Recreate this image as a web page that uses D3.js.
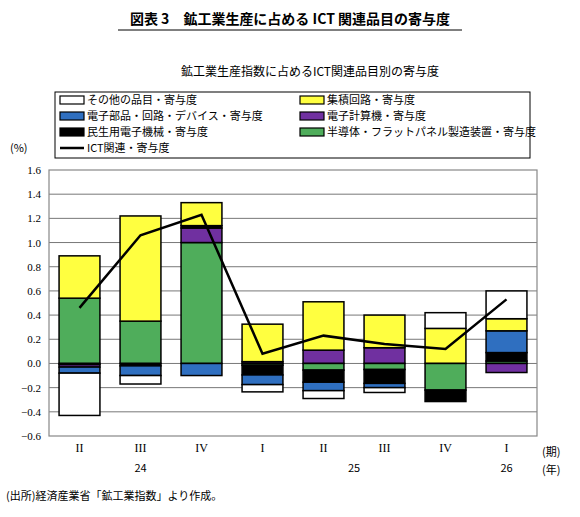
<!DOCTYPE html>
<html lang="ja">
<head>
<meta charset="UTF-8">
<script src="https://d3js.org/d3.v7.min.js"></script>
<style>
  body { margin: 0; background: #fff; }
  text { font-family: "Noto Sans CJK JP", sans-serif; fill: #000; }
</style>
</head>
<body>
<script>
// quarters and year labels
const quarters = ["II", "III", "IV", "I", "II", "III", "IV", "I"];
const years = [{ label: "24", at: 1 }, { label: "25", at: 4.5 }, { label: "26", at: 7 }];

// contributions (percentage points)
const other      = [-0.35, -0.07, 0.00, -0.06, -0.065, -0.04, 0.13, 0.23];
const icChips    = [0.35, 0.87, 0.19, 0.31, 0.40, 0.27, 0.29, 0.10];
const components = [-0.05, -0.08, -0.10, -0.08, -0.07, -0.035, 0.00, 0.18];
const computers  = [-0.02, 0.00, 0.12, 0.015, 0.11, 0.13, 0.00, -0.075];
const consumer   = [-0.01, -0.02, 0.02, -0.08, -0.10, -0.115, -0.095, 0.07];
const semiEquip  = [0.54, 0.35, 1.00, -0.015, -0.055, -0.05, -0.22, 0.02];
const ictTotal   = [0.46, 1.06, 1.23, 0.08, 0.23, 0.16, 0.12, 0.53];
const yTicks = [-0.6, -0.4, -0.2, 0.0, 0.2, 0.4, 0.6, 0.8, 1.0, 1.2, 1.4, 1.6];

const series = [
  { name: "その他の品目・寄与度", values: other, color: "#ffffff" },
  { name: "集積回路・寄与度", values: icChips, color: "#ffff40" },
  { name: "電子部品・回路・デバイス・寄与度", values: components, color: "#2f6fc0" },
  { name: "電子計算機・寄与度", values: computers, color: "#7030a0" },
  { name: "民生用電子機械・寄与度", values: consumer, color: "#000000" },
  { name: "半導体・フラットパネル製造装置・寄与度", values: semiEquip, color: "#4fad5b" }
];
const byName = n => series.find(s => s.name.startsWith(n));
const posOrder = ["半導体", "電子計算機", "民生用", "電子部品", "集積回路", "その他"].map(byName);
const negOrder = ["半導体", "民生用", "電子計算機", "電子部品", "その他"].map(byName);

const W = 580, H = 517;
const m = { left: 49, right: 43, top: 170, bottom: 81 };
const svg = d3.select("body").append("svg").attr("width", W).attr("height", H);

// title
svg.append("text").attr("x", W / 2).attr("y", 24).attr("text-anchor", "middle")
  .style("font-size", "14px").style("font-weight", "bold")
  .text("図表 3　鉱工業生産に占める ICT 関連品目の寄与度");
svg.append("line").attr("x1", 118).attr("x2", 462).attr("y1", 30).attr("y2", 30)
  .attr("stroke", "#000").attr("stroke-width", 1);
svg.append("text").attr("x", 310).attr("y", 76).attr("text-anchor", "middle")
  .style("font-size", "12px").text("鉱工業生産指数に占めるICT関連品目別の寄与度");

const x = d3.scaleBand().domain(d3.range(quarters.length))
  .range([m.left, W - m.right]).paddingInner(0.33).paddingOuter(0.165);
const y = d3.scaleLinear().domain([-0.6, 1.6]).range([H - m.bottom, m.top]);

// grid
svg.append("g").selectAll("line").data(yTicks.slice(1, -1)).join("line")
  .attr("x1", m.left).attr("x2", W - m.right)
  .attr("y1", d => y(d)).attr("y2", d => y(d))
  .attr("stroke", "#555").attr("stroke-width", 0.8);
svg.append("rect").attr("x", m.left).attr("y", m.top)
  .attr("width", W - m.left - m.right).attr("height", y(-0.6) - m.top)
  .attr("fill", "none").attr("stroke", "#888").attr("stroke-width", 1.2);

// y axis labels
const yAxis = d3.axisLeft(y).tickValues(yTicks).tickFormat(d3.format(".1f")).tickSize(0).tickPadding(8);
const ya = svg.append("g").attr("transform", `translate(${m.left},0)`).call(yAxis);
ya.select(".domain").remove();
ya.selectAll("text").style("font-size", "11px").style("font-family", "Liberation Serif, serif");
svg.append("text").attr("x", 10).attr("y", 152).style("font-size", "11px").text("(%)");

// stacked bars
quarters.forEach((q, i) => {
  let pos = 0, neg = 0;
  posOrder.forEach(s => {
    const v = s.values[i];
    if (v > 0) {
      svg.append("rect").attr("x", x(i)).attr("width", x.bandwidth())
        .attr("y", y(pos + v)).attr("height", y(pos) - y(pos + v))
        .attr("fill", s.color).attr("stroke", "#000").attr("stroke-width", 1.5);
      pos += v;
    }
  });
  negOrder.forEach(s => {
    const v = s.values[i];
    if (v < 0) {
      svg.append("rect").attr("x", x(i)).attr("width", x.bandwidth())
        .attr("y", y(neg)).attr("height", y(neg + v) - y(neg))
        .attr("fill", s.color).attr("stroke", "#000").attr("stroke-width", 1.5);
      neg += v;
    }
  });
});

// ICT line
svg.append("path").datum(ictTotal)
  .attr("d", d3.line().x((d, i) => x(i) + x.bandwidth() / 2).y(d => y(d)))
  .attr("fill", "none").attr("stroke", "#000").attr("stroke-width", 2.5);

// x labels
svg.append("g").selectAll("text").data(quarters).join("text")
  .attr("x", (d, i) => x(i) + x.bandwidth() / 2).attr("y", 452)
  .attr("text-anchor", "middle").style("font-size", "12px")
  .style("font-family", "Liberation Serif, serif").text(d => d);
svg.append("g").selectAll("text").data(years).join("text")
  .attr("x", d => x(Math.floor(d.at)) + x.bandwidth() / 2 + (d.at % 1) * x.step())
  .attr("y", 472).attr("text-anchor", "middle").style("font-size", "11px").text(d => d.label);
svg.append("text").attr("x", 542).attr("y", 456).style("font-size", "11px").text("(期)");
svg.append("text").attr("x", 542).attr("y", 474).style("font-size", "11px").text("(年)");
svg.append("text").attr("x", 6).attr("y", 500).style("font-size", "11px")
  .text("(出所)経済産業省「鉱工業指数」より作成。");

// legend
svg.append("rect").attr("x", 55).attr("y", 92).attr("width", 475).attr("height", 66)
  .attr("fill", "#fff").attr("stroke", "#000").attr("stroke-width", 1);
const legendItems = [
  { s: byName("その他"), col: 0, row: 0 },
  { s: byName("集積回路"), col: 1, row: 0 },
  { s: byName("電子部品"), col: 0, row: 1 },
  { s: byName("電子計算機"), col: 1, row: 1 },
  { s: byName("民生用"), col: 0, row: 2 },
  { s: byName("半導体"), col: 1, row: 2 },
  { s: { name: "ICT関連・寄与度", line: true }, col: 0, row: 3 }
];
legendItems.forEach(it => {
  const lx = it.col === 0 ? 60 : 300, ly = 100 + it.row * 16;
  if (it.s.line) {
    svg.append("line").attr("x1", lx).attr("x2", lx + 24).attr("y1", ly).attr("y2", ly)
      .attr("stroke", "#000").attr("stroke-width", 2.5);
  } else {
    svg.append("rect").attr("x", lx).attr("y", ly - 4).attr("width", 24).attr("height", 8)
      .attr("fill", it.s.color).attr("stroke", "#000").attr("stroke-width", 1.2);
  }
  svg.append("text").attr("x", lx + 27).attr("y", ly + 4).style("font-size", "11px").text(it.s.name);
});
</script>
</body>
</html>
